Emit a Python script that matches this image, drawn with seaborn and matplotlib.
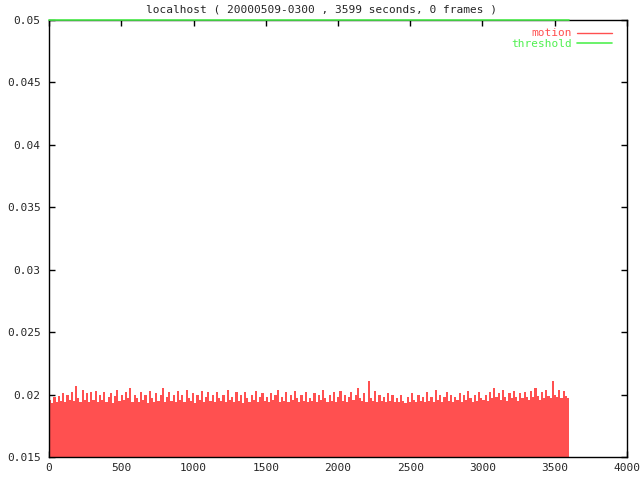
import numpy as np
import seaborn as sns
import matplotlib
matplotlib.use("Agg")
import matplotlib.pyplot as plt

# motion values, one per 15 s bin
step = 15
motion = [
    0.0196, 0.0193, 0.0198, 0.0194, 0.0199, 0.0195, 0.0201, 0.0194, 0.0200, 0.0196, 0.0202, 0.0195, 0.0207, 0.0197, 0.0194, 0.0204, 0.0196, 0.0201, 0.0194, 0.0202,
    0.0196, 0.0203, 0.0194, 0.0200, 0.0196, 0.0202, 0.0194, 0.0198, 0.0201, 0.0193, 0.0199, 0.0204, 0.0195, 0.0200, 0.0196, 0.0202, 0.0197, 0.0205, 0.0194, 0.0200,
    0.0197, 0.0194, 0.0202, 0.0196, 0.0200, 0.0193, 0.0203, 0.0197, 0.0194, 0.0201, 0.0195, 0.0200, 0.0205, 0.0194, 0.0198, 0.0202, 0.0195, 0.0200, 0.0194, 0.0203,
    0.0196, 0.0200, 0.0194, 0.0204, 0.0197, 0.0195, 0.0201, 0.0193, 0.0200, 0.0196, 0.0203, 0.0194, 0.0198, 0.0202, 0.0195, 0.0200, 0.0194, 0.0202, 0.0197, 0.0195,
    0.0200, 0.0194, 0.0204, 0.0196, 0.0198, 0.0194, 0.0202, 0.0195, 0.0200, 0.0193, 0.0202, 0.0197, 0.0194, 0.0200, 0.0196, 0.0203, 0.0194, 0.0198, 0.0201, 0.0195,
    0.0198, 0.0194, 0.0201, 0.0196, 0.0200, 0.0204, 0.0194, 0.0198, 0.0195, 0.0202, 0.0194, 0.0200, 0.0196, 0.0203, 0.0197, 0.0194, 0.0200, 0.0195, 0.0202, 0.0194,
    0.0197, 0.0195, 0.0201, 0.0194, 0.0200, 0.0196, 0.0204, 0.0197, 0.0194, 0.0200, 0.0195, 0.0202, 0.0194, 0.0198, 0.0203, 0.0195, 0.0200, 0.0194, 0.0198, 0.0202,
    0.0196, 0.0200, 0.0205, 0.0197, 0.0195, 0.0201, 0.0194, 0.0211, 0.0197, 0.0195, 0.0203, 0.0194, 0.0200, 0.0195, 0.0198, 0.0194, 0.0201, 0.0195, 0.0200, 0.0194,
    0.0197, 0.0194, 0.0200, 0.0195, 0.0193, 0.0198, 0.0194, 0.0201, 0.0196, 0.0194, 0.0200, 0.0195, 0.0198, 0.0194, 0.0202, 0.0195, 0.0198, 0.0194, 0.0204, 0.0196,
    0.0200, 0.0194, 0.0198, 0.0202, 0.0195, 0.0200, 0.0194, 0.0198, 0.0196, 0.0201, 0.0194, 0.0200, 0.0196, 0.0203, 0.0197, 0.0194, 0.0200, 0.0195, 0.0202, 0.0197,
    0.0196, 0.0200, 0.0195, 0.0202, 0.0197, 0.0205, 0.0198, 0.0201, 0.0196, 0.0204, 0.0198, 0.0195, 0.0201, 0.0197, 0.0203, 0.0198, 0.0195, 0.0201, 0.0197, 0.0202,
    0.0198, 0.0196, 0.0203, 0.0198, 0.0205, 0.0199, 0.0196, 0.0202, 0.0197, 0.0204, 0.0199, 0.0197, 0.0211, 0.0200, 0.0198, 0.0204, 0.0197, 0.0203, 0.0199, 0.0197,
]
seconds = np.arange(len(motion)) * step

threshold_x = [0, 3599]
threshold_y = [0.05, 0.05]

xticks = [0, 500, 1000, 1500, 2000, 2500, 3000, 3500, 4000]
yticks = [0.015, 0.02, 0.025, 0.03, 0.035, 0.04, 0.045, 0.05]
ytick_labels = ["0.015", "0.02", "0.025", "0.03", "0.035", "0.04", "0.045", "0.05"]

title = "localhost ( 20000509-0300 , 3599 seconds, 0 frames )"

red = "#ff5050"
green = "#50f050"

sns.set_style("ticks")
plt.rcParams["font.family"] = ["DejaVu Sans Mono"]

fig = plt.figure(figsize=(6.4, 4.8), dpi=100)
ax = fig.add_axes([0.0766, 0.0479, 0.903, 0.9104])

ax.bar(seconds, motion, width=step, align="edge", color=red, linewidth=0)
ax.plot([], [], color=red, lw=1, label="motion")
sns.lineplot(x=threshold_x, y=threshold_y, color=green, lw=1.2, label="threshold",
             ax=ax, clip_on=False, zorder=5)

ax.set_xlim(0, 4000)
ax.set_ylim(0.015, 0.05)
ax.set_xticks(xticks)
ax.set_yticks(yticks)
ax.set_yticklabels(ytick_labels)
ax.tick_params(direction="in", length=4.5, width=1, labelsize=8, top=True, right=True, color="black")
ax.tick_params(axis="y", pad=6)
ax.tick_params(axis="x", pad=4)
for s in ax.spines.values():
    s.set_color("black")
    s.set_linewidth(1)
ax.set_xlabel("")
ax.set_ylabel("")

# legend sits in the top right corner, line after the text like gnuplot
leg = ax.legend(loc="upper right", bbox_to_anchor=(0.982, 0.991), markerfirst=False,
                frameon=False, fontsize=8, handlelength=3.2, handletextpad=0.4,
                labelspacing=0.05, borderaxespad=0, labelcolor="linecolor")

fig.text(0.503, 1 - 10 / 480, title, ha="center", va="center", fontsize=8)

fig.savefig("out.png", dpi=100)
